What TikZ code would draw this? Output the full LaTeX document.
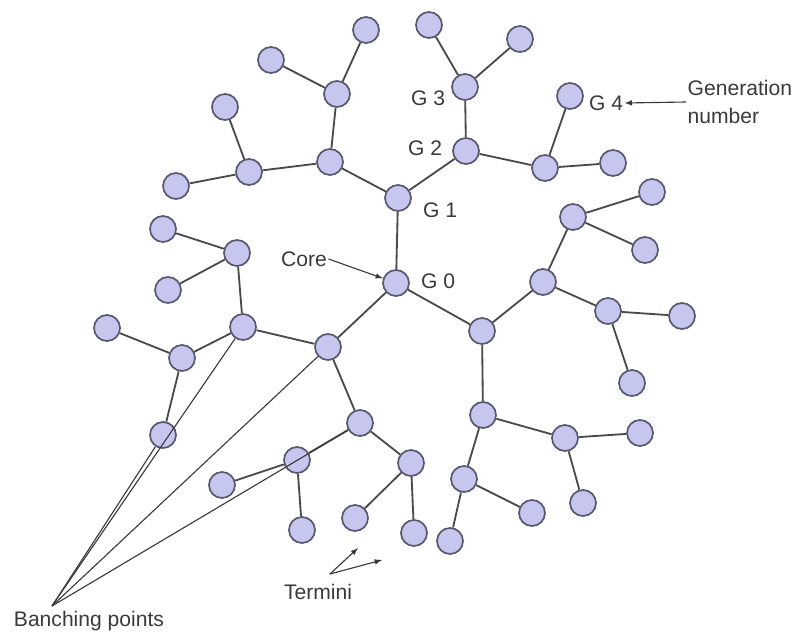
\documentclass[tikz,border=0pt]{standalone}
\usepackage{fontspec}
\setmainfont{Liberation Sans}
\usepackage{tikz}

\definecolor{beadfill}{HTML}{C6C6EE}
\definecolor{beadline}{HTML}{585870}
\definecolor{bondcol}{HTML}{4A4A4A}
\definecolor{labelcol}{HTML}{3A3A3A}

\tikzset{
    bead/.style={circle, draw=beadline, fill=beadfill, line width=1.2pt, minimum size=0.65cm, inner sep=0pt},
    bond/.style={draw=bondcol, line width=1.3pt},
    pointer/.style={draw=labelcol, line width=0.8pt},
    lbl/.style={text=labelcol, font=\fontsize{15}{20}\selectfont, inner sep=1pt}
}

\begin{document}
\begin{tikzpicture}[x=0.025cm, y=-0.025cm, >=latex]
    \useasboundingbox (0,0) rectangle (794,631);

    \node (g0)    at (396,283) [bead] {};

    \node (g1u)   at (398,198) [bead] {};
    \node (g1r)   at (482,331) [bead] {};
    \node (g1l)   at (328,347) [bead] {};

    \node (g2ua)  at (466,151) [bead] {};
    \node (g2ub)  at (330,162) [bead] {};
    \node (g2ra)  at (543,282) [bead] {};
    \node (g2rb)  at (483,415) [bead] {};
    \node (g2la)  at (243,327) [bead] {};
    \node (g2lb)  at (360,423) [bead] {};

    \node (g3ua)  at (465,87)  [bead] {};
    \node (g3ub)  at (545,168) [bead] {};
    \node (g3uc)  at (337,94)  [bead] {};
    \node (g3ud)  at (249,172) [bead] {};
    \node (g3ra)  at (573,217) [bead] {};
    \node (g3rb)  at (608,311) [bead] {};
    \node (g3rc)  at (565,438) [bead] {};
    \node (g3rd)  at (464,479) [bead] {};
    \node (g3la)  at (237,253) [bead] {};
    \node (g3lb)  at (182,358) [bead] {};
    \node (g3lc)  at (297,460) [bead] {};
    \node (g3ld)  at (411,463) [bead] {};

    \node (g4ua1) at (429,25)  [bead] {};
    \node (g4ua2) at (520,39)  [bead] {};
    \node (g4ub1) at (570,96)  [bead] {};
    \node (g4ub2) at (613,163) [bead] {};
    \node (g4uc1) at (271,60)  [bead] {};
    \node (g4uc2) at (366,30)  [bead] {};
    \node (g4ud1) at (225,107) [bead] {};
    \node (g4ud2) at (176,186) [bead] {};
    \node (g4ra1) at (652,192) [bead] {};
    \node (g4ra2) at (645,250) [bead] {};
    \node (g4rb1) at (682,316) [bead] {};
    \node (g4rb2) at (632,383) [bead] {};
    \node (g4rc1) at (640,433) [bead] {};
    \node (g4rc2) at (583,503) [bead] {};
    \node (g4rd1) at (532,513) [bead] {};
    \node (g4rd2) at (450,541) [bead] {};
    \node (g4la1) at (163,229) [bead] {};
    \node (g4la2) at (168,290) [bead] {};
    \node (g4lb1) at (107,328) [bead] {};
    \node (g4lb2) at (163,435) [bead] {};
    \node (g4lc1) at (222,485) [bead] {};
    \node (g4lc2) at (302,530) [bead] {};
    \node (g4ld1) at (355,518) [bead] {};
    \node (g4ld2) at (414,533) [bead] {};

    \draw[bond] (g0) -- (g1u)  (g0) -- (g1r)  (g0) -- (g1l);
    \draw[bond] (g1u) -- (g2ua)  (g1u) -- (g2ub)
                (g1r) -- (g2ra)  (g1r) -- (g2rb)
                (g1l) -- (g2la)  (g1l) -- (g2lb);
    \draw[bond] (g2ua) -- (g3ua)  (g2ua) -- (g3ub)
                (g2ub) -- (g3uc)  (g2ub) -- (g3ud)
                (g2ra) -- (g3ra)  (g2ra) -- (g3rb)
                (g2rb) -- (g3rc)  (g2rb) -- (g3rd)
                (g2la) -- (g3la)  (g2la) -- (g3lb)
                (g2lb) -- (g3lc)  (g2lb) -- (g3ld);
    \draw[bond] (g3ua) -- (g4ua1)  (g3ua) -- (g4ua2)
                (g3ub) -- (g4ub1)  (g3ub) -- (g4ub2)
                (g3uc) -- (g4uc1)  (g3uc) -- (g4uc2)
                (g3ud) -- (g4ud1)  (g3ud) -- (g4ud2)
                (g3ra) -- (g4ra1)  (g3ra) -- (g4ra2)
                (g3rb) -- (g4rb1)  (g3rb) -- (g4rb2)
                (g3rc) -- (g4rc1)  (g3rc) -- (g4rc2)
                (g3rd) -- (g4rd1)  (g3rd) -- (g4rd2)
                (g3la) -- (g4la1)  (g3la) -- (g4la2)
                (g3lb) -- (g4lb1)  (g3lb) -- (g4lb2)
                (g3lc) -- (g4lc1)  (g3lc) -- (g4lc2)
                (g3ld) -- (g4ld1)  (g3ld) -- (g4ld2);

    \node (lblg0)   at (438,281) [lbl] {G 0};
    \node (lblg1)   at (440,210) [lbl] {G 1};
    \node (lblg2)   at (425,148) [lbl] {G 2};
    \node (lblg3)   at (428,98)  [lbl] {G 3};
    \node (lblg4)   at (606,103) [lbl] {G 4};
    \node (lblgen)  at (686,102) [lbl, anchor=west, align=left] {Generation\\number};
    \node (lblcore) at (304,259) [lbl] {Core};
    \node (lblterm) at (318,592) [lbl] {Termini};
    \node (lblbranch) at (89,621) [lbl] {Banching points};

    \draw[pointer, ->] (lblgen.west) -- (lblg4.east);
    \draw[pointer, ->] (lblcore.east) -- (g0);

    \coordinate (termfoot) at (330,574);
    \coordinate (termtipa) at (358,548);
    \coordinate (termtipb) at (382,560);
    \draw[pointer, ->] (termfoot) -- (termtipa);
    \draw[pointer, ->] (termfoot) -- (termtipb);

    \coordinate (branchfoot) at (52,606);
    \draw[pointer] (branchfoot) -- (g4lb2);
    \draw[pointer] (branchfoot) -- (g2la);
    \draw[pointer] (branchfoot) -- (g1l);
    \draw[pointer] (branchfoot) -- (g2lb);
\end{tikzpicture}
\end{document}
